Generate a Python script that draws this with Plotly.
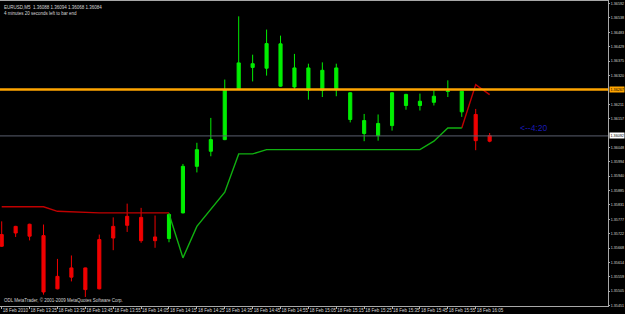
import plotly.graph_objects as go

# ---- data ----
bar_idx = list(range(36))
highs = [1.35769, 1.35752, 1.35760, 1.35757, 1.35627, 1.35640, 1.35594, 1.35719, 1.35784, 1.35836, 1.35820, 1.35791,
         1.35801, 1.35986, 1.36066, 1.36160, 1.36305, 1.36544, 1.36399, 1.36494, 1.36471, 1.36402, 1.36365, 1.36370,
         1.36365, 1.36257, 1.36175, 1.36173, 1.36257, 1.36251, 1.36252, 1.36264, 1.36302, 1.36262, 1.36194, 1.36103]
opens = [1.35719, 1.35750, 1.35758, 1.35715, 1.35561, 1.35593, 1.35593, 1.35700, 1.35750, 1.35788, 1.35784, 1.35710,
         1.35704, 1.35801, 1.35977, 1.36034, 1.36078, 1.36270, 1.36351, 1.36348, 1.36280, 1.36277, 1.36264, 1.36264,
         1.36267, 1.36154, 1.36101, 1.36093, 1.36131, 1.36207, 1.36207, 1.36219, 1.36260, 1.36183, 1.36173, 1.36072]
closes = [1.35675, 1.35725, 1.35713, 1.35502, 1.35514, 1.35558, 1.35511, 1.35514, 1.35706, 1.35754, 1.35696, 1.35696,
          1.35795, 1.35977, 1.36040, 1.36078, 1.36267, 1.36368, 1.36365, 1.36441, 1.36440, 1.36349, 1.36349, 1.36340,
          1.36349, 1.36255, 1.36150, 1.36139, 1.36255, 1.36249, 1.36223, 1.36242, 1.36262, 1.36261, 1.36074, 1.36093]
lows = [1.35672, 1.35710, 1.35697, 1.35492, 1.35512, 1.35542, 1.35483, 1.35512, 1.35660, 1.35729, 1.35688, 1.35669,
        1.35690, 1.35799, 1.35954, 1.36015, 1.36076, 1.36268, 1.36298, 1.36320, 1.36278, 1.36270, 1.36229, 1.36239,
        1.36242, 1.36143, 1.36072, 1.36074, 1.36112, 1.36191, 1.36188, 1.36207, 1.36239, 1.36164, 1.36038, 1.36068]
bar_color = ["red"] * 12 + ["green"] * 22 + ["red"] * 2

trend_down = [1.35824, 1.35824, 1.35824, 1.35824, 1.35807, 1.35805, 1.35801, 1.35801, 1.35801, 1.35801, 1.35801, 1.35801,
              1.35801] + [None] * 20 + [1.36122, 1.36286, 1.36248]
trend_up = [None] * 12 + [1.35798, 1.35631, 1.35750, 1.35815, 1.35879, 1.36024, 1.36024, 1.36040, 1.36040, 1.36040,
                          1.36040, 1.36040, 1.36040, 1.36040, 1.36040, 1.36040, 1.36040, 1.36040, 1.36040, 1.36072,
                          1.36122, 1.36122] + [None] * 2

level_price = 1.36267
bid_price = 1.36092

x_tick_idx = list(range(0, 36, 2))
x_tick_text = ["18 Feb 2010", "18 Feb 13:25", "18 Feb 13:35", "18 Feb 13:45", "18 Feb 13:55", "18 Feb 14:05",
               "18 Feb 14:15", "18 Feb 14:25", "18 Feb 14:35", "18 Feb 14:45", "18 Feb 14:55", "18 Feb 15:05",
               "18 Feb 15:15", "18 Feb 15:25", "18 Feb 15:35", "18 Feb 15:45", "18 Feb 15:55", "18 Feb 16:05"]
y_tick_vals = [1.36592, 1.36538, 1.36483, 1.36429, 1.36375, 1.36320, 1.36211, 1.36157, 1.36048, 1.35994,
               1.35940, 1.35885, 1.35831, 1.35777, 1.35722, 1.35668, 1.35614, 1.35559, 1.35505, 1.35451]
y_tick_text = ["%.5f" % v for v in y_tick_vals]

header = "EURUSD,M5  1.36088 1.36094 1.36068 1.36084<br>4 minutes 20 seconds left to bar end"
footer = "ODL MetaTrader, \u00a9 2001-2009 MetaQuotes Software Corp."
countdown = "<--4:20"

FONT = "Liberation Sans"
fig = go.Figure()

for cname, col in [("red", "#f00000"), ("green", "#00ee00")]:
    sel = [i for i in bar_idx if bar_color[i] == cname]
    fig.add_trace(go.Candlestick(
        x=[bar_idx[i] for i in sel],
        open=[opens[i] for i in sel], high=[highs[i] for i in sel],
        low=[lows[i] for i in sel], close=[closes[i] for i in sel],
        increasing=dict(line=dict(color=col, width=1), fillcolor=col),
        decreasing=dict(line=dict(color=col, width=1), fillcolor=col),
        whiskerwidth=0, showlegend=False, hoverinfo="skip"))

fig.add_trace(go.Scatter(x=bar_idx, y=trend_down, mode="lines", line=dict(color="#c00000", width=1.4),
                         connectgaps=False, showlegend=False, hoverinfo="skip"))
fig.add_trace(go.Scatter(x=bar_idx, y=trend_up, mode="lines", line=dict(color="#10b010", width=1.4),
                         connectgaps=False, showlegend=False, hoverinfo="skip"))

fig.add_hline(y=level_price, line=dict(color="#ffa500", width=2.5))
fig.add_hline(y=bid_price, line=dict(color="#5a5f6e", width=1))

fig.add_annotation(xref="paper", x=1.0, y=level_price, text="%.5f" % level_price, showarrow=False,
                   xanchor="left", bgcolor="#ffa500", font=dict(family=FONT, size=3.7, color="#000000"),
                   borderpad=0.5, xshift=1)
fig.add_annotation(xref="paper", x=1.0, y=bid_price, text="%.5f" % bid_price, showarrow=False,
                   xanchor="left", bgcolor="#ffffff", font=dict(family=FONT, size=3.7, color="#000000"),
                   borderpad=0.5, xshift=1)
fig.add_annotation(x=37.0, y=trend_up[33], text=countdown, showarrow=False, xanchor="left",
                   font=dict(family=FONT, size=8.5, color="#1a1ab4"))
fig.add_annotation(xref="paper", yref="paper", x=0.004, y=0.995, text=header, showarrow=False,
                   xanchor="left", yanchor="top", align="left",
                   font=dict(family=FONT, size=4.5, color="#d8d8d8"))
fig.add_annotation(xref="paper", yref="paper", x=0.004, y=0.002, text=footer, showarrow=False,
                   xanchor="left", yanchor="bottom", align="left",
                   font=dict(family=FONT, size=4.5, color="#d8d8d8"))

fig.update_layout(
    width=625, height=314, margin=dict(l=0, r=17, t=1, b=8),
    paper_bgcolor="#000000", plot_bgcolor="#000000",
    boxgap=0.68, showlegend=False,
    xaxis=dict(range=[-0.122, 43.49], rangeslider=dict(visible=False), showgrid=False, zeroline=False,
               tickmode="array", tickvals=x_tick_idx, ticktext=x_tick_text, ticks="outside", ticklen=2,
               tickcolor="#b0b0b0", ticklabelposition="outside right", tickangle=0, automargin=False,
               tickfont=dict(family=FONT, size=4.5, color="#d8d8d8"),
               showline=True, linecolor="#a8a8a8", linewidth=1, mirror=True),
    yaxis=dict(range=[1.35449, 1.36602], side="right", showgrid=False, zeroline=False, automargin=False,
               tickmode="array", tickvals=y_tick_vals, ticktext=y_tick_text, ticks="outside", ticklen=1,
               ticklabelstandoff=0,
               tickcolor="#b0b0b0", tickfont=dict(family=FONT, size=3.7, color="#d8d8d8"),
               showline=True, linecolor="#a8a8a8", linewidth=1, mirror=True),
)

fig.write_html("out.html")
